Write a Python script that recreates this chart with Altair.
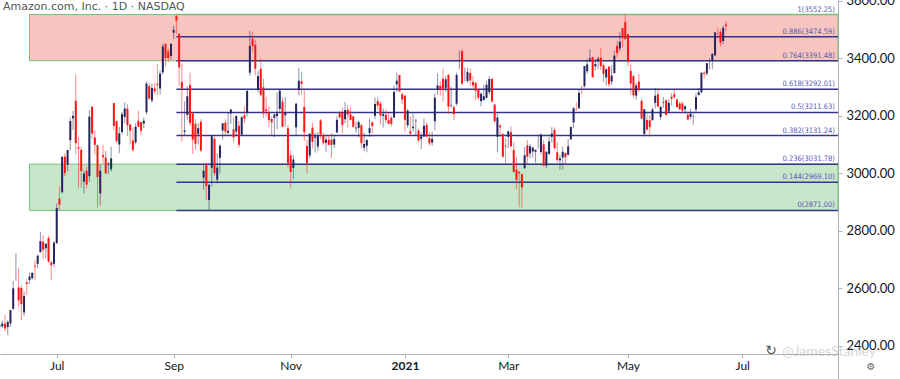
import altair as alt
import pandas as pd

# ---------------- data ----------------
trade_days = {
    "2020-06": [2, 3, 4, 5, 8, 9, 10, 11, 12, 15, 16, 17, 18, 19, 22, 23, 24, 25, 26, 29, 30],
    "2020-07": [1, 2, 6, 7, 8, 9, 10, 13, 14, 15, 16, 17, 20, 21, 22, 23, 24, 27, 28, 29, 30, 31],
    "2020-08": [3, 4, 5, 6, 7, 10, 11, 12, 13, 14, 17, 18, 19, 20, 21, 24, 25, 26, 27, 28, 31],
    "2020-09": [1, 2, 3, 4, 8, 9, 10, 11, 14, 15, 16, 17, 18, 21, 22, 23, 24, 25, 28, 29, 30],
    "2020-10": [1, 2, 5, 6, 7, 8, 9, 12, 13, 14, 15, 16, 19, 20, 21, 22, 23, 26, 27, 28, 29, 30],
    "2020-11": [2, 3, 4, 5, 6, 9, 10, 11, 12, 13, 16, 17, 18, 19, 20, 23, 24, 25, 27, 30],
    "2020-12": [1, 2, 3, 4, 7, 8, 9, 10, 11, 14, 15, 16, 17, 18, 21, 22, 23, 24, 28, 29, 30, 31],
    "2021-01": [4, 5, 6, 7, 8, 11, 12, 13, 14, 15, 19, 20, 21, 22, 25, 26, 27, 28, 29],
    "2021-02": [1, 2, 3, 4, 5, 8, 9, 10, 11, 12, 16, 17, 18, 19, 22, 23, 24, 25, 26],
    "2021-03": [1, 2, 3, 4, 5, 8, 9, 10, 11, 12, 15, 16, 17, 18, 19, 22, 23, 24, 25, 26, 29, 30, 31],
    "2021-04": [1, 5, 6, 7, 8, 9, 12, 13, 14, 15, 16, 19, 20, 21, 22, 23, 26, 27, 28, 29, 30],
    "2021-05": [3, 4, 5, 6, 7, 10, 11, 12, 13, 14, 17, 18, 19, 20, 21, 24, 25, 26, 27, 28],
    "2021-06": [1, 2, 3, 4, 7, 8, 9, 10, 11, 14, 15, 16, 17, 18, 21, 22, 23],
}
future_days = {"2021-06": [24, 25, 28, 29, 30], "2021-07": [1]}

opens = [
    2467, 2468, 2477, 2465, 2478, 2529, 2646, 2603, 2601, 2516, 2620, 2629, 2635, 2678, 2685, 2726, 2762, 2739, 2775, 2690, 2685,
    2757, 2912, 2934, 3058, 3030, 3115, 3191, 3252, 3090, 3081, 2971, 3009, 2990, 3232, 3125, 3098, 2930, 3063, 3055, 3030, 3014, 3244,
    3181, 3100, 3143, 3196, 3225, 3170, 3114, 3108, 3183, 3178, 3173, 3212, 3303, 3253, 3295, 3311, 3295, 3351, 3450, 3424, 3408,
    3489, 3547, 3485, 3318, 3144, 3203, 3307, 3208, 3172, 3137, 3179, 2985, 3031, 2907, 3019, 3120, 2978, 3054, 3149, 3176, 3141,
    3208, 3153, 3145, 3165, 3135, 3202, 3210, 3350, 3468, 3447, 3292, 3363, 3299, 3222, 3212, 3189, 3193, 3199, 3224, 3249, 3202, 3157,
    3062, 3019, 3160, 3291, 3320, 3231, 3095, 3062, 3159, 3123, 3093, 3184, 3134, 3106, 3117, 3117, 3100, 3142, 3211, 3209,
    3188, 3221, 3205, 3198, 3156, 3158, 3167, 3089, 3096, 3140, 3177, 3200, 3251, 3243, 3200, 3203, 3185, 3193, 3194, 3309, 3342, 3275,
    3270, 3167, 3146, 3157, 3181, 3149, 3120, 3128, 3168, 3123, 3107, 3181, 3293, 3304, 3329, 3297, 3342, 3235, 3230,
    3242, 3380, 3425, 3331, 3321, 3349, 3318, 3314, 3292, 3251, 3255, 3263, 3282, 3328, 3239, 3127, 3166, 3136, 3096,
    3127, 3143, 3081, 3013, 3005, 2997, 3018, 3097, 3069, 3076, 3075, 3092, 3074, 3101, 3027, 3067, 3127, 3151, 3073, 3045, 3055, 3070, 3064,
    3118, 3177, 3224, 3226, 3300, 3303, 3355, 3395, 3404, 3372, 3394, 3402, 3376, 3333, 3371, 3319, 3349, 3443, 3434, 3505, 3526,
    3484, 3356, 3338, 3270, 3319, 3252, 3137, 3185, 3185, 3185, 3245, 3275, 3196, 3245, 3254, 3215, 3266, 3275, 3256, 3243,
    3243, 3223, 3204, 3196, 3197, 3222, 3272, 3282, 3350, 3347, 3384, 3393, 3410, 3488, 3492, 3460, 3518,
]
highs = [
    2473, 2488, 2507, 2489, 2525, 2626, 2722, 2671, 2610, 2589, 2631, 2655, 2655, 2697, 2715, 2796, 2784, 2757, 2783, 2696, 2763,
    2895, 2955, 3060, 3070, 3082, 3194, 3217, 3344, 3127, 3092, 3010, 3024, 3220, 3232, 3150, 3098, 3032, 3099, 3078, 3040, 3093, 3246,
    3184, 3161, 3214, 3247, 3241, 3172, 3160, 3174, 3217, 3178, 3195, 3320, 3315, 3312, 3314, 3381, 3358, 3451, 3453, 3434, 3453,
    3513, 3552, 3488, 3382, 3250, 3303, 3350, 3212, 3188, 3175, 3188, 3029, 3037, 2963, 3134, 3127, 3070, 3101, 3175, 3188, 3212,
    3224, 3195, 3199, 3182, 3200, 3233, 3288, 3496, 3492, 3465, 3356, 3400, 3329, 3266, 3234, 3198, 3205, 3282, 3292, 3264, 3265, 3167,
    3079, 3064, 3245, 3367, 3353, 3289, 3115, 3140, 3175, 3142, 3143, 3189, 3141, 3127, 3133, 3140, 3134, 3198, 3216, 3229,
    3248, 3237, 3229, 3198, 3180, 3184, 3174, 3142, 3118, 3191, 3181, 3264, 3263, 3250, 3226, 3223, 3210, 3202, 3305, 3350, 3342, 3283,
    3273, 3224, 3198, 3208, 3190, 3156, 3143, 3190, 3178, 3143, 3145, 3279, 3348, 3321, 3364, 3338, 3347, 3301, 3236,
    3350, 3427, 3434, 3368, 3367, 3365, 3338, 3318, 3292, 3280, 3309, 3321, 3338, 3333, 3241, 3208, 3171, 3140, 3122,
    3149, 3164, 3108, 3058, 3009, 3000, 3092, 3116, 3103, 3092, 3082, 3134, 3139, 3116, 3077, 3126, 3160, 3160, 3109, 3064, 3092, 3073, 3119,
    3162, 3231, 3247, 3290, 3304, 3374, 3396, 3432, 3405, 3398, 3406, 3437, 3383, 3364, 3372, 3376, 3427, 3460, 3490, 3506, 3554,
    3486, 3379, 3343, 3315, 3345, 3258, 3224, 3208, 3203, 3228, 3297, 3298, 3235, 3265, 3258, 3257, 3279, 3295, 3260, 3249,
    3250, 3235, 3214, 3224, 3208, 3279, 3297, 3350, 3355, 3384, 3400, 3419, 3492, 3505, 3500, 3512, 3530,
]
lows = [
    2445, 2462, 2450, 2437, 2466, 2525, 2626, 2536, 2490, 2503, 2576, 2615, 2631, 2630, 2670, 2724, 2701, 2705, 2688, 2630, 2675,
    2754, 2872, 2930, 2990, 3007, 3080, 3150, 3068, 2950, 2950, 2930, 2948, 2971, 3122, 3065, 2881, 2888, 3033, 2996, 2997, 3006, 3151,
    3104, 3070, 3136, 3174, 3130, 3101, 3074, 3100, 3161, 3132, 3157, 3205, 3256, 3245, 3275, 3273, 3274, 3344, 3372, 3387, 3395,
    3467, 3486, 3303, 3112, 3130, 3187, 3165, 3068, 3081, 3100, 3074, 2942, 2906, 2871, 2954, 2992, 2965, 2999, 3117, 3133, 3135,
    3172, 3107, 3129, 3090, 3132, 3174, 3197, 3339, 3424, 3340, 3281, 3267, 3192, 3198, 3160, 3133, 3126, 3153, 3212, 3162, 3163, 3020,
    2951, 2980, 3133, 3271, 3273, 3113, 3000, 3052, 3086, 3072, 3077, 3120, 3098, 3075, 3098, 3053, 3088, 3140, 3190, 3140,
    3174, 3160, 3184, 3158, 3141, 3125, 3088, 3076, 3073, 3126, 3138, 3188, 3221, 3169, 3159, 3176, 3171, 3163, 3192, 3282, 3283, 3241,
    3144, 3158, 3134, 3145, 3130, 3108, 3085, 3126, 3125, 3096, 3096, 3150, 3273, 3271, 3249, 3283, 3207, 3228, 3184,
    3235, 3361, 3308, 3318, 3314, 3305, 3297, 3254, 3256, 3233, 3253, 3259, 3273, 3245, 3174, 3073, 3125, 3053, 3036,
    3088, 3092, 3001, 2945, 2882, 2881, 3014, 3031, 3053, 3054, 3037, 3086, 3066, 3025, 3017, 3065, 3107, 3086, 3037, 3011, 3013, 3033, 3063,
    3117, 3157, 3218, 3226, 3275, 3298, 3346, 3387, 3332, 3358, 3362, 3360, 3317, 3305, 3301, 3308, 3347, 3403, 3424, 3438, 3462,
    3372, 3273, 3264, 3255, 3283, 3188, 3128, 3150, 3127, 3183, 3225, 3231, 3185, 3228, 3202, 3211, 3236, 3258, 3230, 3220,
    3209, 3208, 3184, 3187, 3169, 3213, 3270, 3278, 3330, 3340, 3361, 3362, 3409, 3468, 3441, 3450, 3495,
]
closes = [
    2472, 2478, 2460, 2483, 2524, 2600, 2647, 2558, 2545, 2573, 2615, 2641, 2654, 2675, 2714, 2764, 2734, 2755, 2693, 2680, 2759,
    2879, 2891, 3057, 3000, 3081, 3182, 3200, 3105, 3085, 3008, 2999, 2961, 3197, 3138, 3099, 2987, 3009, 3056, 3000, 3034, 3052, 3165,
    3112, 3139, 3206, 3225, 3167, 3148, 3081, 3162, 3162, 3148, 3183, 3312, 3260, 3297, 3285, 3307, 3347, 3441, 3401, 3401, 3450,
    3499, 3531, 3368, 3295, 3149, 3268, 3175, 3117, 3103, 3157, 3079, 3009, 2955, 2960, 3129, 3000, 3020, 3096, 3174, 3145, 3148,
    3222, 3125, 3200, 3099, 3195, 3190, 3287, 3443, 3443, 3364, 3338, 3273, 3208, 3217, 3185, 3177, 3205, 3208, 3287, 3162, 3212, 3036,
    3005, 3048, 3242, 3322, 3311, 3143, 3036, 3138, 3110, 3128, 3131, 3135, 3105, 3117, 3099, 3099, 3119, 3186, 3195, 3168,
    3220, 3204, 3186, 3162, 3159, 3178, 3105, 3102, 3116, 3157, 3165, 3241, 3236, 3201, 3206, 3185, 3172, 3172, 3283, 3322, 3285, 3257,
    3186, 3218, 3138, 3162, 3183, 3115, 3128, 3165, 3128, 3104, 3120, 3263, 3306, 3292, 3294, 3327, 3232, 3237, 3206,
    3342, 3380, 3312, 3331, 3352, 3323, 3306, 3287, 3263, 3277, 3268, 3308, 3328, 3250, 3181, 3194, 3160, 3058, 3093,
    3146, 3094, 3005, 2977, 3000, 2951, 3063, 3058, 3094, 3089, 3082, 3092, 3135, 3027, 3075, 3111, 3138, 3087, 3046, 3052, 3075, 3056, 3094,
    3161, 3226, 3223, 3280, 3299, 3373, 3379, 3400, 3334, 3380, 3399, 3373, 3345, 3362, 3310, 3340, 3409, 3418, 3458, 3471, 3467,
    3387, 3312, 3271, 3306, 3292, 3190, 3223, 3152, 3161, 3222, 3270, 3232, 3231, 3247, 3203, 3245, 3260, 3265, 3230, 3223,
    3218, 3233, 3187, 3207, 3198, 3265, 3282, 3350, 3346, 3383, 3384, 3415, 3490, 3487, 3454, 3506, 3512,
]

fib_ratios = ["0", "0.144", "0.236", "0.382", "0.5", "0.618", "0.764", "0.886", "1"]
fib_prices = [2871.00, 2969.10, 3031.78, 3131.24, 3211.63, 3292.01, 3391.48, 3474.59, 3552.25]
fib_start_date = "2020-09-02"

zone_names = ["resistance", "support"]
zone_lows = [3391.48, 2871.00]
zone_highs = [3552.25, 3031.78]
zone_start_date = "2020-06-17"

tick_months = ["2020-07", "2020-09", "2020-11", "2021-01", "2021-03", "2021-05", "2021-07"]
tick_labels = ["Jul", "Sep", "Nov", "2021", "Mar", "May", "Jul"]
price_ticks = [2400, 2600, 2800, 3000, 3200, 3400, 3600]

title_text = "Amazon.com, Inc. · 1D · NASDAQ"
watermark_text = "@JamesStanley"

# ---------------- build tables ----------------
dates = [f"{m}-{d:02d}" for m, ds in trade_days.items() for d in ds]
all_dates = dates + [f"{m}-{d:02d}" for m, ds in future_days.items() for d in ds]
assert len(dates) == len(opens) == len(highs) == len(lows) == len(closes)

candles = pd.DataFrame({
    "n": list(range(len(dates))), "date": dates,
    "open": opens, "high": highs, "low": lows, "close": closes,
})

X_DOMAIN = [0.15, 308.2]
Y_DOMAIN = [2371.5, 3602.8]
W, H = 838, 354

fib_n = dates.index(fib_start_date)
fibs = pd.DataFrame({
    "ratio": fib_ratios, "price": fib_prices,
    "start": [fib_n] * len(fib_ratios), "end": [X_DOMAIN[1]] * len(fib_ratios),
})
fibs["label"] = [f"{r}({p:.2f})" for r, p in zip(fib_ratios, fib_prices)]

zone_n = dates.index(zone_start_date)
zones = pd.DataFrame({
    "zone": zone_names, "lo": zone_lows, "hi": zone_highs,
    "start": [zone_n] * 2, "end": [X_DOMAIN[1]] * 2,
})

tick_vals = [next(i for i, d in enumerate(all_dates) if d.startswith(m)) for m in tick_months]
label_expr = "''"
for v, l in reversed(list(zip(tick_vals, tick_labels))):
    label_expr = f"datum.value == {v} ? '{l}' : {label_expr}"

FONT = "Lato"
UP = "#24245e"
DOWN = "#ff1414"

xscale = alt.Scale(domain=X_DOMAIN, nice=False, zero=False, padding=0)
yscale = alt.Scale(domain=Y_DOMAIN, nice=False, zero=False, padding=0)
xaxis = alt.Axis(
    values=tick_vals, labelExpr=label_expr, title=None, grid=False,
    labelFont=FONT, labelFontSize=12, labelColor="#131722",
    labelFontWeight={"condition": {"test": f"datum.value == {tick_vals[3]}", "value": "bold"}, "value": "normal"},
    tickSize=4, tickColor="#b0b3bb", domainColor="#b0b3bb", labelPadding=2, labelFlush=False,
)
yaxis = alt.Axis(
    orient="right", values=price_ticks, format=".2f", title=None, grid=False,
    labelFont=FONT, labelFontSize=13, labelColor="#131722",
    tickSize=4, tickColor="#b0b3bb", domainColor="#b0b3bb", labelPadding=4, labelFlush=False,
)


def X(field):
    return alt.X(field, type="quantitative", scale=xscale, axis=xaxis)


def Y(field):
    return alt.Y(field, type="quantitative", scale=yscale, axis=yaxis)


zone_layer = alt.Chart(zones).mark_rect(stroke="#74c178", strokeWidth=1).encode(
    x=X("start"), x2="end", y=Y("lo"), y2="hi",
    fill=alt.Fill("zone:N", scale=alt.Scale(domain=zone_names, range=["#f8c4c0", "#c8e6c9"]), legend=None),
)

fib_layer = alt.Chart(fibs).mark_rule(strokeWidth=1.5).encode(
    x=X("start"), x2="end", y=Y("price"),
    color=alt.condition("datum.ratio == '1'", alt.value("#74c178"), alt.value("#34348a")),
)

fib_text = alt.Chart(fibs).mark_text(
    align="right", baseline="bottom", dx=-3, dy=-1, fontSize=7.5,
    font="Liberation Sans Narrow, DejaVu Sans Condensed, Liberation Sans", color="#5a5ab8"
).encode(x=X("end"), y=Y("price"), text="label:N")

wick_layer = alt.Chart(candles).mark_rule(strokeWidth=1, opacity=0.5).encode(
    x=X("n"), y=Y("low"), y2="high",
    color=alt.condition("datum.close >= datum.open", alt.value(UP), alt.value(DOWN)),
)

body_layer = alt.Chart(candles).mark_bar(size=2).encode(
    x=X("n"), y=Y("open"), y2="close",
    color=alt.condition("datum.close >= datum.open", alt.value(UP), alt.value(DOWN)),
)

title_layer = alt.Chart(pd.DataFrame({"t": [title_text]})).mark_text(
    align="left", baseline="middle", fontSize=11, font="DejaVu Sans", color="#555555"
).encode(x=alt.value(3), y=alt.value(7), text="t:N")

mark_df = pd.DataFrame({"t": [watermark_text]})
watermark = alt.Chart(mark_df).mark_text(
    align="left", baseline="middle", fontSize=14, font=FONT, color="#9a9aa0", opacity=0.4
).encode(x=alt.value(782), y=alt.value(352), text="t:N")
wm_icon = alt.Chart(pd.DataFrame({"t": ["↻"]})).mark_text(
    align="center", baseline="middle", fontSize=14, font="DejaVu Sans", color="#555555"
).encode(x=alt.value(771), y=alt.value(351), text="t:N")
gear = alt.Chart(pd.DataFrame({"t": ["⚙"]})).mark_text(
    align="center", baseline="middle", fontSize=10, font="DejaVu Sans", color="#666666"
).encode(x=alt.value(871), y=alt.value(367), text="t:N")
edge = alt.Chart(pd.DataFrame({"a": [0]})).mark_rule(color="#b0b3bb", strokeWidth=1).encode(
    x=alt.value(838.5), y=alt.value(354), y2=alt.value(379)
)

chart = alt.layer(
    zone_layer, fib_layer, fib_text, wick_layer, body_layer,
    title_layer, watermark, wm_icon, gear, edge,
).properties(
    width=W, height=H,
    autosize=alt.AutoSizeParams(type="none"),
    padding={"left": 0, "top": 0, "right": 62, "bottom": 25},
    background="white",
).configure_view(stroke=None)

chart.save("out.html", embed_options={"renderer": "svg", "actions": False})
